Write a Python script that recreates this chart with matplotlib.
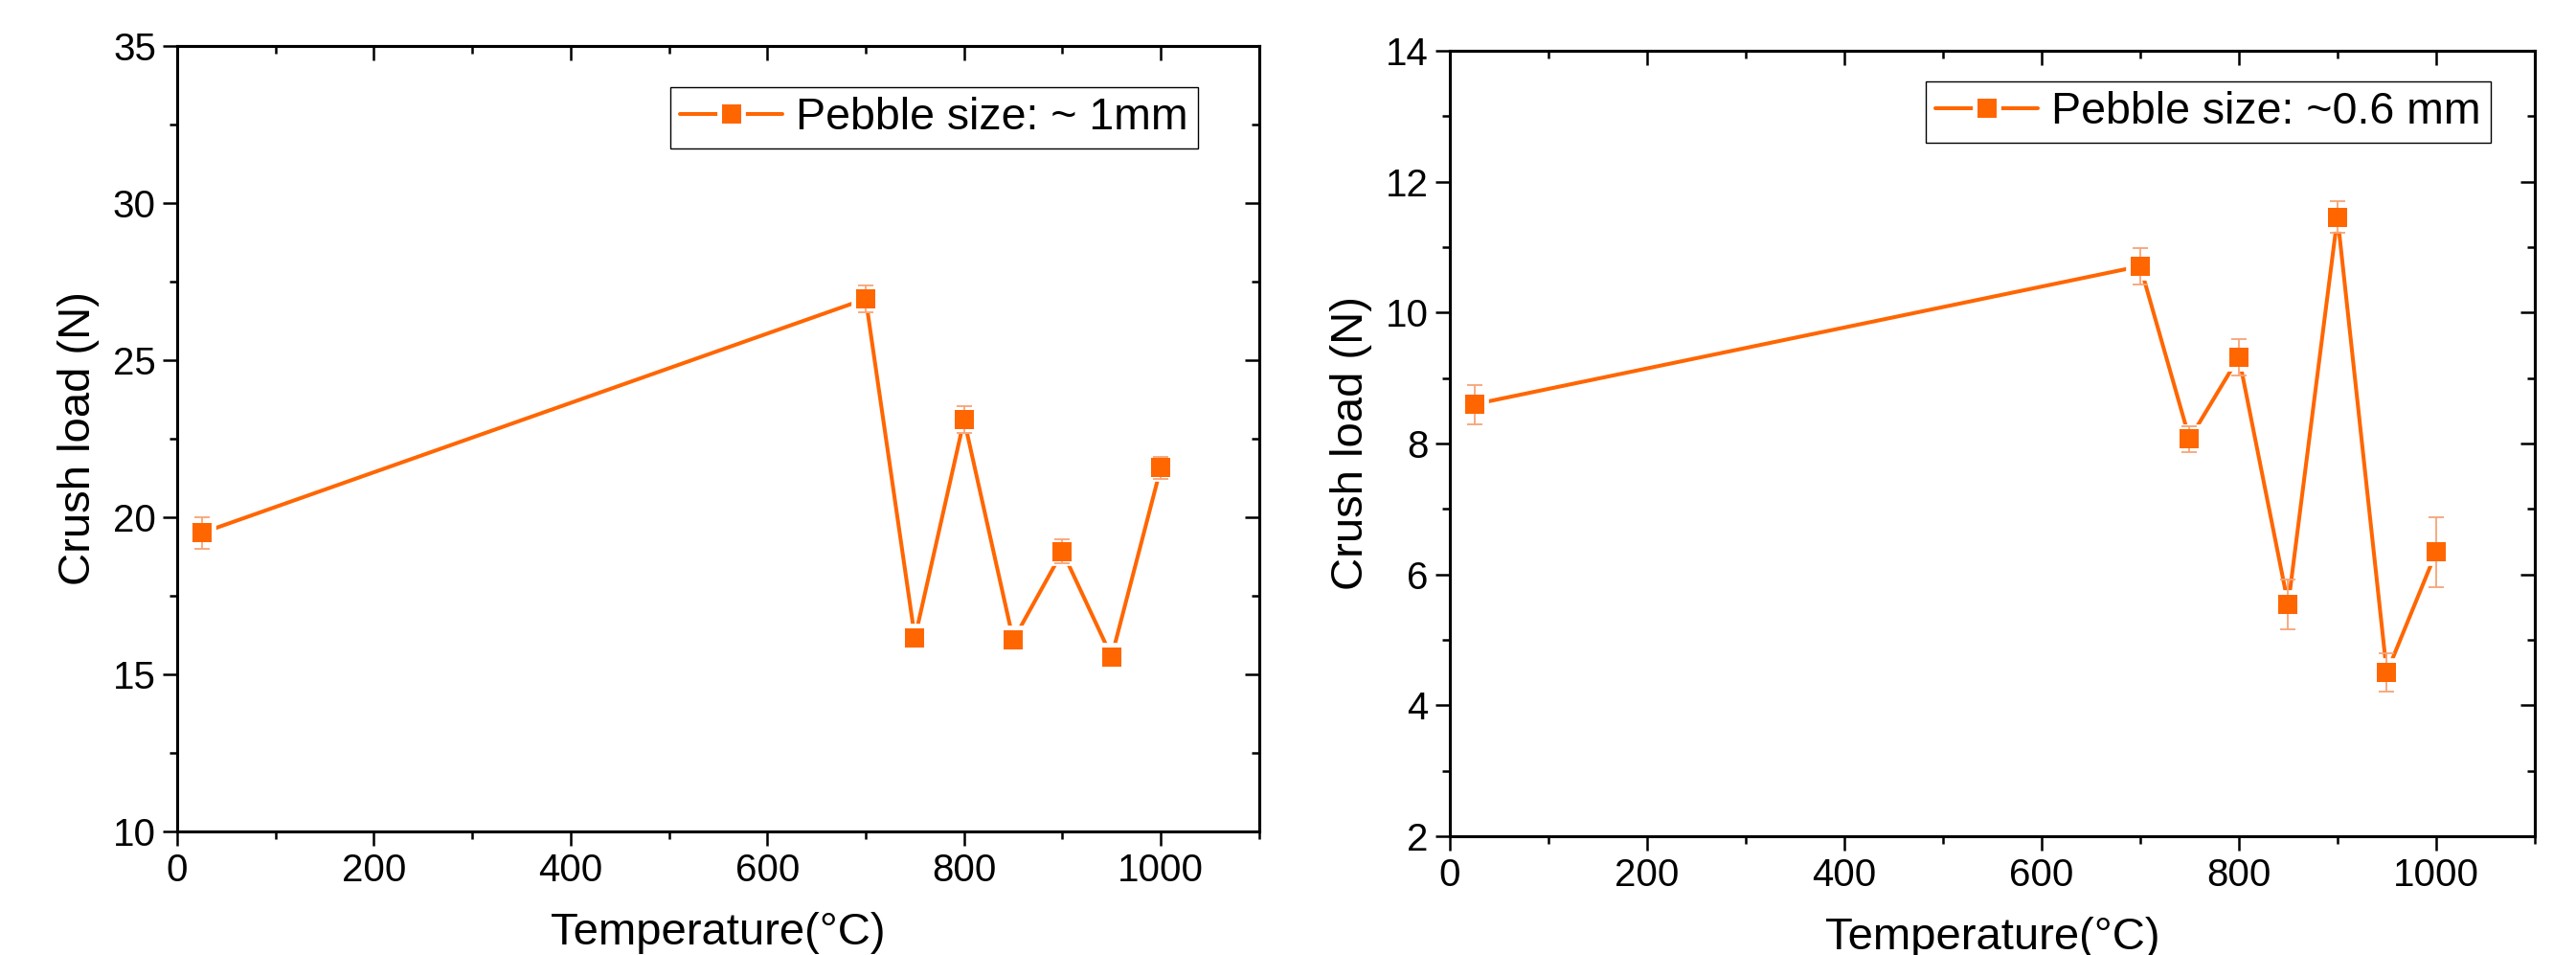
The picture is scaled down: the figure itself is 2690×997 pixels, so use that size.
import matplotlib
matplotlib.use("Agg")
import matplotlib.pyplot as plt
from matplotlib.ticker import MultipleLocator

plt.rcParams["font.family"] = ["Liberation Sans", "DejaVu Sans"]

# data
temperature = [25, 700, 750, 800, 850, 900, 950, 1000]

load_1mm = [19.5, 26.95, 16.16, 23.1, 16.09, 18.91, 15.56, 21.57]
err_1mm = [0.5, 0.43, 0.2, 0.43, 0.2, 0.38, 0.2, 0.34]

load_06mm = [8.60, 10.71, 8.07, 9.32, 5.54, 11.46, 4.50, 6.34]
err_06mm = [0.30, 0.28, 0.20, 0.28, 0.38, 0.24, 0.29, 0.53]

labels = ["Pebble size: ~ 1mm", "Pebble size: ~0.6 mm"]
ylims = [(10, 35), (2, 14)]
ymajor = [5, 2]
yminor = [2.5, 1]

line_color = "#FF6600"
err_color = "#F7A477"

fig = plt.figure(figsize=(26.9, 9.97), dpi=100)
ax1 = fig.add_axes([0.0688, 0.1294, 0.4200, 0.8225])
ax2 = fig.add_axes([0.5628, 0.1244, 0.4212, 0.8224])
legend_anchor = [(0.9434, 0.9476), (0.9594, 0.961)]

MS = 15


def draw(ax, y, err, label, ylim, ymaj, ymin, anchor):
    # line with white-edged markers gives the gaps next to the points
    gap_line, = ax.plot(temperature, y, color=line_color, lw=2.9, marker="s",
                        ms=MS, mfc="white", mec="white", mew=7.0, zorder=2,
                        solid_capstyle="round")
    ax.errorbar(temperature, y, yerr=err, fmt="none", ecolor=err_color,
                elinewidth=1.3, capsize=6, capthick=1.3, zorder=3)
    pts, = ax.plot(temperature, y, ls="none", marker="s", ms=MS,
                   mfc=line_color, mec=line_color, mew=0, zorder=4)

    ax.set_xlim(0, 1100)
    ax.set_ylim(*ylim)
    ax.xaxis.set_major_locator(MultipleLocator(200))
    ax.xaxis.set_minor_locator(MultipleLocator(100))
    ax.yaxis.set_major_locator(MultipleLocator(ymaj))
    ax.yaxis.set_minor_locator(MultipleLocator(ymin))
    ax.set_xticks([0, 200, 400, 600, 800, 1000])

    for s in ax.spines.values():
        s.set_linewidth(2.2)
    ax.tick_params(which="major", direction="out", length=11, width=1.8,
                   labelsize=29, pad=5)
    ax.tick_params(which="minor", direction="out", length=6, width=1.8)

    top = ax.secondary_xaxis("top")
    top.xaxis.set_major_locator(MultipleLocator(200))
    top.xaxis.set_minor_locator(MultipleLocator(100))
    top.tick_params(which="major", direction="in", length=11, width=1.8,
                    labeltop=False)
    top.tick_params(which="minor", direction="in", length=6, width=1.8)
    top.spines["top"].set_linewidth(2.2)

    right = ax.secondary_yaxis("right")
    right.yaxis.set_major_locator(MultipleLocator(ymaj))
    right.yaxis.set_minor_locator(MultipleLocator(ymin))
    right.tick_params(which="major", direction="in", length=11, width=1.8,
                      labelright=False)
    right.tick_params(which="minor", direction="in", length=6, width=1.8)
    right.spines["right"].set_linewidth(2.2)

    ax.set_xlabel("Temperature(°C)", fontsize=34, labelpad=17)
    ax.set_ylabel("Crush load (N)", fontsize=34, labelpad=10)

    leg = ax.legend([(gap_line, pts)], [label], loc="upper right",
                    bbox_to_anchor=anchor, borderaxespad=0,
                    fontsize=33.5, fancybox=False, framealpha=1,
                    handlelength=2.3, handletextpad=0.3, borderpad=0.22)
    leg.get_frame().set_edgecolor("black")
    leg.get_frame().set_linewidth(1.0)


draw(ax1, load_1mm, err_1mm, labels[0], ylims[0], ymajor[0], yminor[0],
     legend_anchor[0])
draw(ax2, load_06mm, err_06mm, labels[1], ylims[1], ymajor[1], yminor[1],
     legend_anchor[1])

fig.savefig("out.png", dpi=100)
